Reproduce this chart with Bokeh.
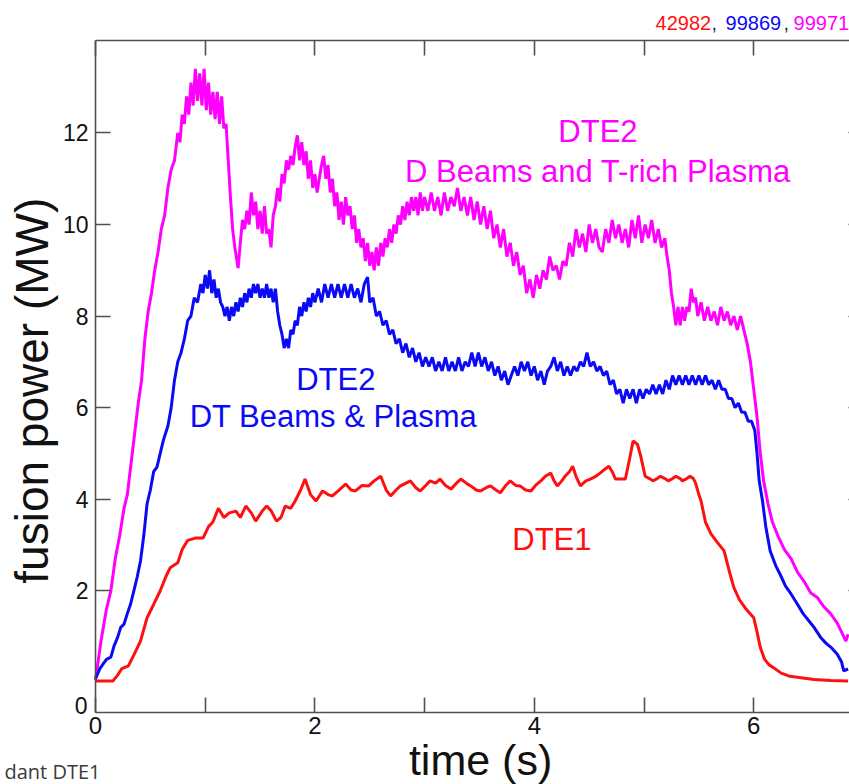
import math
from bokeh.plotting import figure
from bokeh.models import Range1d, FixedTicker, LinearAxis, Label
from bokeh.embed import file_html
from bokeh.resources import INLINE

# ---------------- data (time s, fusion power MW) ----------------
dte2_dbeams = [
    (0.00, 0.05), (0.05, 0.9), (0.10, 1.6), (0.14, 2.0), (0.18, 2.7), (0.22, 3.2), (0.26, 3.8),
    (0.29, 4.1), (0.33, 4.9), (0.36, 5.5), (0.39, 6.1), (0.42, 6.6), (0.45, 7.5), (0.48, 8.1),
    (0.51, 8.5), (0.54, 9.0), (0.57, 9.4), (0.60, 9.9), (0.63, 10.2), (0.66, 10.8), (0.69, 11.2),
    (0.72, 11.4), (0.75, 12.0), (0.77, 11.8), (0.79, 12.4), (0.81, 12.2), (0.83, 12.8), (0.85, 12.4),
    (0.87, 13.1), (0.89, 12.6), (0.91, 13.4), (0.93, 12.7), (0.95, 13.3), (0.97, 12.6), (0.99, 13.4),
    (1.01, 12.5), (1.03, 13.1), (1.05, 12.4), (1.07, 12.9), (1.09, 12.3), (1.11, 12.9), (1.13, 12.2),
    (1.15, 12.8), (1.17, 12.1), (1.19, 12.2), (1.21, 11.4), (1.23, 10.6), (1.25, 9.9), (1.27, 9.5),
    (1.30, 9.05), (1.32, 9.6), (1.34, 10.1), (1.36, 9.9), (1.38, 10.3), (1.40, 10.0), (1.42, 10.7),
    (1.44, 10.2), (1.46, 10.5), (1.48, 9.9), (1.50, 10.3), (1.52, 9.8), (1.54, 10.4), (1.56, 9.8),
    (1.58, 9.9), (1.60, 9.5), (1.62, 10.2), (1.64, 10.4), (1.66, 10.8), (1.68, 10.5), (1.70, 11.1),
    (1.72, 10.9), (1.74, 11.4), (1.76, 11.2), (1.78, 11.5), (1.80, 11.3), (1.82, 11.7), (1.84, 11.95),
    (1.86, 11.4), (1.88, 11.8), (1.90, 11.3), (1.92, 11.6), (1.94, 11.0), (1.96, 11.4), (1.98, 10.8),
    (2.00, 11.1), (2.02, 10.7), (2.04, 11.0), (2.06, 11.3), (2.08, 11.5), (2.10, 11.0), (2.12, 11.3),
    (2.14, 10.7), (2.16, 11.0), (2.18, 10.4), (2.20, 10.7), (2.22, 10.1), (2.24, 10.5), (2.26, 10.0),
    (2.28, 10.6), (2.30, 10.2), (2.32, 10.4), (2.34, 9.9), (2.36, 10.2), (2.38, 9.6), (2.40, 9.9),
    (2.42, 9.5), (2.44, 9.7), (2.46, 9.2), (2.48, 9.6), (2.50, 9.1), (2.52, 9.4), (2.54, 9.0),
    (2.56, 9.5), (2.58, 9.1), (2.60, 9.6), (2.62, 9.3), (2.64, 9.7), (2.66, 9.5), (2.68, 9.9),
    (2.70, 9.6), (2.72, 10.0), (2.74, 9.8), (2.76, 10.2), (2.78, 10.0), (2.80, 10.4), (2.82, 10.1),
    (2.84, 10.5), (2.86, 10.2), (2.88, 10.6), (2.90, 10.3), (2.92, 10.6), (2.94, 10.2), (2.96, 10.7),
    (2.98, 10.3), (3.00, 10.6), (3.03, 10.3), (3.06, 10.7), (3.09, 10.3), (3.12, 10.6), (3.15, 10.2),
    (3.18, 10.7), (3.21, 10.3), (3.24, 10.6), (3.27, 10.4), (3.30, 10.8), (3.33, 10.3), (3.36, 10.6),
    (3.39, 10.2), (3.42, 10.6), (3.45, 10.1), (3.48, 10.5), (3.51, 10.0), (3.54, 10.4), (3.57, 9.9),
    (3.60, 10.3), (3.63, 9.7), (3.66, 10.0), (3.69, 9.5), (3.72, 9.9), (3.75, 9.3), (3.78, 9.6),
    (3.81, 9.1), (3.84, 9.4), (3.87, 8.9), (3.90, 9.1), (3.93, 8.5), (3.96, 8.8), (3.99, 8.4),
    (4.02, 8.9), (4.05, 8.6), (4.08, 9.0), (4.11, 8.8), (4.14, 9.3), (4.17, 9.0), (4.20, 9.1),
    (4.23, 8.8), (4.26, 9.2), (4.29, 9.1), (4.32, 9.6), (4.35, 9.3), (4.38, 9.9), (4.41, 9.5),
    (4.44, 9.8), (4.47, 9.4), (4.50, 10.0), (4.53, 9.6), (4.56, 9.9), (4.59, 9.5), (4.62, 9.4),
    (4.65, 9.9), (4.68, 9.6), (4.71, 10.1), (4.74, 9.7), (4.77, 10.0), (4.80, 9.6), (4.83, 9.9),
    (4.86, 9.5), (4.89, 10.1), (4.92, 9.7), (4.95, 10.2), (4.98, 9.6), (5.01, 10.0), (5.04, 9.7),
    (5.07, 10.1), (5.10, 9.6), (5.13, 9.9), (5.16, 9.5), (5.19, 9.7), (5.21, 9.3), (5.23, 9.0),
    (5.25, 8.5), (5.27, 8.2), (5.29, 7.8), (5.31, 8.2), (5.33, 7.8), (5.35, 8.2), (5.37, 7.9),
    (5.39, 8.2), (5.41, 8.1), (5.43, 8.6), (5.45, 8.3), (5.47, 8.4), (5.49, 8.0), (5.52, 8.3),
    (5.55, 7.9), (5.58, 8.2), (5.61, 7.9), (5.64, 8.1), (5.67, 7.8), (5.70, 8.2), (5.73, 7.9),
    (5.76, 8.1), (5.79, 7.8), (5.82, 8.0), (5.85, 7.7), (5.88, 8.0), (5.91, 7.7), (5.94, 7.4),
    (5.97, 7.0), (6.00, 6.4), (6.03, 5.8), (6.06, 5.0), (6.09, 4.4), (6.13, 3.9), (6.17, 3.5),
    (6.22, 3.2), (6.28, 2.9), (6.34, 2.7), (6.40, 2.4), (6.46, 2.2), (6.52, 1.95), (6.58, 1.85),
    (6.64, 1.65), (6.70, 1.5), (6.76, 1.3), (6.80, 1.1), (6.84, 0.9), (6.86, 1.05),
]

dte2_dtbeams = [
    (0.00, 0.08), (0.04, 0.3), (0.07, 0.4), (0.10, 0.5), (0.14, 0.55), (0.17, 0.8), (0.20, 0.97),
    (0.23, 1.2), (0.26, 1.27), (0.29, 1.5), (0.32, 1.71), (0.35, 2.0), (0.38, 2.3), (0.41, 2.65),
    (0.44, 3.2), (0.47, 3.9), (0.50, 4.2), (0.53, 4.6), (0.56, 4.7), (0.59, 5.0), (0.62, 5.3),
    (0.66, 5.6), (0.69, 6.0), (0.72, 6.6), (0.75, 7.0), (0.78, 7.2), (0.81, 7.5), (0.84, 7.9),
    (0.87, 8.0), (0.90, 8.4), (0.93, 8.3), (0.96, 8.7), (0.98, 8.5), (1.00, 8.9), (1.02, 8.6),
    (1.04, 9.0), (1.06, 8.5), (1.08, 8.8), (1.10, 8.4), (1.12, 8.6), (1.14, 8.3), (1.16, 8.2),
    (1.18, 8.0), (1.20, 8.2), (1.22, 7.9), (1.24, 8.2), (1.26, 8.0), (1.28, 8.3), (1.30, 8.1),
    (1.32, 8.4), (1.34, 8.2), (1.36, 8.5), (1.38, 8.3), (1.40, 8.6), (1.42, 8.4), (1.44, 8.7),
    (1.46, 8.5), (1.48, 8.7), (1.50, 8.4), (1.52, 8.6), (1.54, 8.4), (1.56, 8.7), (1.58, 8.4),
    (1.60, 8.6), (1.62, 8.3), (1.64, 8.6), (1.66, 8.1), (1.68, 7.8), (1.70, 7.6), (1.72, 7.3),
    (1.74, 7.5), (1.76, 7.3), (1.78, 7.7), (1.80, 7.6), (1.82, 7.9), (1.84, 7.8), (1.86, 8.2),
    (1.88, 8.0), (1.90, 8.3), (1.92, 8.1), (1.94, 8.4), (1.96, 8.2), (1.98, 8.5), (2.00, 8.3),
    (2.03, 8.6), (2.06, 8.3), (2.09, 8.7), (2.12, 8.4), (2.15, 8.7), (2.18, 8.4), (2.21, 8.7),
    (2.24, 8.4), (2.27, 8.7), (2.30, 8.4), (2.33, 8.7), (2.36, 8.4), (2.39, 8.6), (2.42, 8.3),
    (2.45, 8.7), (2.48, 8.85), (2.50, 8.3), (2.53, 8.4), (2.56, 8.0), (2.59, 8.1), (2.62, 7.8),
    (2.65, 7.9), (2.68, 7.6), (2.71, 7.7), (2.74, 7.4), (2.77, 7.5), (2.80, 7.2), (2.83, 7.4),
    (2.86, 7.1), (2.89, 7.3), (2.92, 7.0), (2.95, 7.2), (2.98, 6.9), (3.01, 7.1), (3.04, 6.9),
    (3.07, 7.1), (3.10, 6.8), (3.13, 7.0), (3.16, 6.8), (3.19, 7.1), (3.22, 6.8), (3.25, 7.0),
    (3.28, 6.8), (3.31, 7.1), (3.34, 6.8), (3.37, 7.0), (3.40, 6.9), (3.43, 7.2), (3.46, 6.9),
    (3.49, 7.2), (3.52, 6.9), (3.55, 7.1), (3.58, 6.8), (3.61, 7.0), (3.64, 6.7), (3.67, 6.9),
    (3.70, 6.6), (3.73, 6.8), (3.76, 6.5), (3.79, 6.7), (3.82, 6.9), (3.85, 6.7), (3.88, 7.0),
    (3.91, 6.8), (3.94, 7.0), (3.97, 6.7), (4.00, 6.9), (4.03, 6.6), (4.06, 6.8), (4.09, 6.5),
    (4.12, 6.8), (4.15, 6.9), (4.18, 7.1), (4.21, 6.8), (4.24, 7.0), (4.27, 6.7), (4.30, 6.9),
    (4.33, 6.7), (4.36, 6.9), (4.39, 6.8), (4.42, 7.0), (4.45, 6.9), (4.48, 7.2), (4.51, 6.9),
    (4.54, 7.0), (4.57, 6.8), (4.60, 6.9), (4.63, 6.7), (4.66, 6.8), (4.69, 6.5), (4.72, 6.6),
    (4.75, 6.3), (4.78, 6.4), (4.81, 6.1), (4.84, 6.4), (4.87, 6.2), (4.90, 6.4), (4.93, 6.1),
    (4.96, 6.4), (4.99, 6.2), (5.02, 6.4), (5.05, 6.3), (5.08, 6.5), (5.11, 6.3), (5.14, 6.5),
    (5.17, 6.3), (5.20, 6.6), (5.23, 6.4), (5.26, 6.7), (5.29, 6.5), (5.32, 6.7), (5.35, 6.5),
    (5.38, 6.7), (5.41, 6.5), (5.44, 6.7), (5.47, 6.5), (5.50, 6.7), (5.53, 6.5), (5.56, 6.7),
    (5.59, 6.5), (5.62, 6.6), (5.65, 6.4), (5.68, 6.6), (5.71, 6.4), (5.74, 6.4), (5.77, 6.2),
    (5.80, 6.2), (5.83, 6.0), (5.86, 6.1), (5.89, 5.9), (5.92, 5.9), (5.95, 5.7), (5.98, 5.7),
    (6.01, 5.5), (6.03, 5.0), (6.05, 4.4), (6.08, 3.96), (6.11, 3.4), (6.15, 2.87), (6.20, 2.55),
    (6.24, 2.36), (6.29, 2.1), (6.34, 1.93), (6.40, 1.7), (6.45, 1.5), (6.50, 1.35), (6.55, 1.2),
    (6.61, 0.98), (6.66, 0.85), (6.71, 0.75), (6.76, 0.62), (6.80, 0.45), (6.82, 0.25), (6.86, 0.29),
]

dte1 = [
    (0.00, 0.03), (0.16, 0.03), (0.20, 0.15), (0.24, 0.3), (0.30, 0.36), (0.35, 0.6), (0.41, 0.9),
    (0.47, 1.41), (0.53, 1.7), (0.59, 2.0), (0.64, 2.3), (0.68, 2.5), (0.75, 2.61), (0.79, 2.9),
    (0.84, 3.1), (0.91, 3.15), (0.98, 3.15), (1.03, 3.4), (1.07, 3.5), (1.12, 3.8), (1.17, 3.6),
    (1.22, 3.7), (1.28, 3.74), (1.32, 3.6), (1.37, 3.85), (1.42, 3.7), (1.46, 3.52), (1.52, 3.74),
    (1.56, 3.85), (1.60, 3.75), (1.65, 3.52), (1.69, 3.6), (1.73, 3.85), (1.78, 3.8), (1.82, 3.96),
    (1.87, 4.2), (1.91, 4.44), (1.96, 4.1), (2.01, 3.96), (2.07, 4.18), (2.12, 4.1), (2.16, 4.07),
    (2.22, 4.2), (2.28, 4.33), (2.33, 4.2), (2.37, 4.18), (2.43, 4.3), (2.49, 4.29), (2.54, 4.4),
    (2.60, 4.5), (2.65, 4.2), (2.69, 4.07), (2.74, 4.2), (2.78, 4.29), (2.83, 4.35), (2.87, 4.4),
    (2.92, 4.25), (2.96, 4.18), (3.01, 4.3), (3.05, 4.4), (3.10, 4.35), (3.14, 4.44), (3.19, 4.3),
    (3.24, 4.22), (3.29, 4.35), (3.33, 4.44), (3.38, 4.35), (3.42, 4.29), (3.47, 4.2), (3.51, 4.18),
    (3.56, 4.25), (3.60, 4.29), (3.65, 4.2), (3.69, 4.14), (3.74, 4.3), (3.78, 4.4), (3.83, 4.3),
    (3.87, 4.29), (3.92, 4.2), (3.97, 4.18), (4.01, 4.3), (4.06, 4.4), (4.10, 4.5), (4.15, 4.57),
    (4.18, 4.4), (4.21, 4.29), (4.25, 4.4), (4.28, 4.5), (4.32, 4.6), (4.35, 4.72), (4.38, 4.5),
    (4.42, 4.29), (4.47, 4.4), (4.51, 4.44), (4.56, 4.5), (4.60, 4.57), (4.64, 4.65), (4.68, 4.72),
    (4.71, 4.6), (4.74, 4.44), (4.79, 4.44), (4.83, 4.44), (4.87, 4.9), (4.90, 5.27), (4.94, 5.2),
    (4.97, 4.94), (5.01, 4.5), (5.05, 4.45), (5.08, 4.4), (5.12, 4.45), (5.15, 4.5), (5.19, 4.45),
    (5.22, 4.4), (5.26, 4.45), (5.29, 4.5), (5.33, 4.45), (5.35, 4.4), (5.39, 4.45), (5.42, 4.5),
    (5.45, 4.45), (5.47, 4.35), (5.50, 4.1), (5.52, 3.96), (5.56, 3.5), (5.61, 3.24), (5.67, 3.05),
    (5.73, 2.87), (5.78, 2.4), (5.82, 2.06), (5.87, 1.8), (5.93, 1.6), (6.00, 1.41), (6.03, 1.1),
    (6.06, 0.76), (6.10, 0.5), (6.14, 0.38), (6.18, 0.32), (6.25, 0.2), (6.33, 0.13), (6.43, 0.1),
    (6.55, 0.06), (6.70, 0.04), (6.86, 0.03),
]

x_major_ticks = [0, 2, 4, 6]
x_minor_ticks = [1, 3, 5, 7]
y_ticks = [2, 4, 6, 8, 10, 12]
shots = ["42982", "99869", "99971"]

RED = "#ff1010"
BLUE = "#0a0af5"
MAG = "#ff00ff"
AXC = "#505050"
FONT = "Liberation Sans"

# axes box (data units) and the visible window around it
X_LO, X_HI = 0.0, 7.0
Y_LO, Y_HI = -0.66, 14.02

p = figure(width=849, height=784, output_backend="svg", toolbar_location=None,
           x_range=Range1d(-0.866, 6.873), y_range=Range1d(-2.233, 14.894),
           x_axis_location=None, y_axis_location=None,
           min_border=0, min_border_left=0, min_border_right=0,
           min_border_top=0, min_border_bottom=0)
p.outline_line_color = None
p.grid.visible = False
p.background_fill_color = "white"
p.border_fill_color = "white"


def style_axis(ax, labels=True):
    ax.axis_line_color = AXC
    ax.axis_line_width = 1.6
    ax.major_tick_line_color = AXC
    ax.major_tick_line_width = 1.6
    ax.minor_tick_line_color = AXC
    ax.minor_tick_line_width = 1.6
    ax.major_tick_in = 15
    ax.major_tick_out = 0
    ax.minor_tick_in = 15
    ax.minor_tick_out = 0
    if labels:
        ax.major_label_text_font = FONT
        ax.major_label_text_color = "#111111"
        ax.major_label_text_font_size = "23px"
    else:
        ax.major_label_text_color = None
        ax.major_label_standoff = 0


xb = LinearAxis(ticker=FixedTicker(ticks=x_major_ticks, minor_ticks=x_minor_ticks),
                fixed_location=Y_LO, bounds=(X_LO, X_HI))
style_axis(xb)
xb.major_label_text_font_size = "24px"
xb.major_label_standoff = 5
p.add_layout(xb, "below")

xt = LinearAxis(ticker=FixedTicker(ticks=x_major_ticks + x_minor_ticks, minor_ticks=[]),
                fixed_location=Y_HI, bounds=(X_LO, X_HI))
style_axis(xt, labels=False)
p.add_layout(xt, "above")

yl = LinearAxis(ticker=FixedTicker(ticks=y_ticks, minor_ticks=[]),
                fixed_location=X_LO, bounds=(Y_LO, Y_HI))
style_axis(yl)
yl.major_label_standoff = 7
p.add_layout(yl, "left")

yr = LinearAxis(ticker=FixedTicker(ticks=y_ticks, minor_ticks=[]),
                fixed_location=X_HI, bounds=(Y_LO, Y_HI))
style_axis(yr, labels=False)
p.add_layout(yr, "right")

for series, col in [(dte2_dbeams, MAG), (dte2_dtbeams, BLUE), (dte1, RED)]:
    t, pw = zip(*series)
    p.line(list(t), list(pw), line_color=col, line_width=3)

# "0" label at the lower-left corner of the y axis
p.add_layout(Label(x=-0.073, y=-0.507, text="0", text_align="right", text_baseline="middle",
                   text_font=FONT, text_font_size="23px", text_color="#111111"))

# axis titles
p.add_layout(Label(x=-0.583, y=6.37, text="fusion power (MW)", angle=math.pi / 2,
                   text_align="center", text_baseline="middle", text_font=FONT,
                   text_font_size="46px", text_color="#111111"))
p.add_layout(Label(x=3.51, y=-1.70, text="time (s)", text_align="center",
                   text_baseline="middle", text_font=FONT,
                   text_font_size="43px", text_color="#111111"))
p.add_layout(Label(x=-0.830, y=-1.95, text="dant DTE1", text_align="left",
                   text_baseline="middle", text_font="Open Sans",
                   text_font_size="20px", text_color="#3a3a3a"))

# curve annotations
ann = [
    (4.58, 12.03, "DTE2", MAG), (4.58, 11.16, "D Beams and T-rich Plasma", MAG),
    (2.19, 6.62, "DTE2", BLUE), (2.17, 5.81, "DT Beams & Plasma", BLUE),
    (4.16, 3.13, "DTE1", RED),
]
for x, y, txt, col in ann:
    p.add_layout(Label(x=x, y=y, text=txt, text_align="center", text_baseline="middle",
                       text_font=FONT, text_font_size="31px", text_color=col))

# shot numbers above the box
top_y = 14.413
for x, txt, col in [(5.105, shots[0], RED), (5.615, ",", "#333333"), (5.743, shots[1], BLUE),
                    (6.272, ",", "#333333"), (6.363, shots[2], MAG)]:
    p.add_layout(Label(x=x, y=top_y, text=txt, text_align="left", text_baseline="middle",
                       text_font=FONT, text_font_size="20px", text_color=col))

open("out.html", "w").write(file_html(p, INLINE))
